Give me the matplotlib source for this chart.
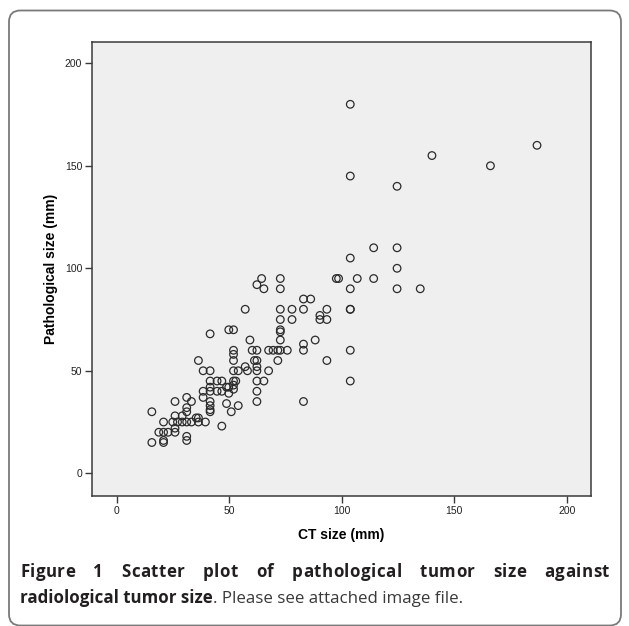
import matplotlib
matplotlib.use("Agg")
import matplotlib.pyplot as plt
from matplotlib.patches import FancyBboxPatch

# CT size (mm) as read against the x ticks
ct_size = [
    15.6, 15.6, 18.7, 20.8, 22.8, 20.8, 20.8, 20.8, 24.9, 27.0, 29.1, 31.1, 33.2, 36.3, 39.4,
    25.9, 25.9, 25.9, 25.9, 29.1, 31.1, 31.1, 31.1, 31.1, 31.1, 33.2, 35.3, 36.3, 38.4, 38.4,
    36.3, 38.4, 41.5, 41.5, 41.5, 41.5, 41.5, 41.5, 41.5, 41.5, 41.5, 44.6, 46.7, 44.6, 46.7,
    46.7, 48.8, 49.8, 49.8, 48.8, 50.9, 51.9, 52.9, 51.9, 51.9, 54.0, 51.9, 51.9, 51.9, 51.9,
    54.0, 49.8, 51.9, 57.1, 59.2, 57.1, 58.1, 60.2, 62.3, 61.2, 62.3, 62.3, 62.3, 62.3, 65.4,
    64.4, 62.3, 65.4, 67.5, 69.5, 71.6, 75.8, 67.5, 71.6, 72.7, 72.7, 72.7, 72.7, 72.7, 72.7,
    72.7, 72.7, 77.9, 77.9, 83.0, 86.2, 83.0, 83.0, 83.0, 83.0, 88.2, 90.3, 90.3, 93.4, 93.4,
    93.4, 97.6, 98.6, 103.8, 103.8, 103.8, 103.8, 103.8, 103.8, 103.8, 103.8, 106.9, 114.2,
    114.2, 124.6, 124.6, 124.6, 124.6, 134.9, 140.1, 166.1, 186.8, 62.3, 62.3,
]
# Pathological size (mm)
path_size = [
    15, 30, 20, 20, 20, 16, 15, 25, 25, 25, 25, 25, 25, 25, 25,
    22, 20, 35, 28, 28, 18, 16, 32, 30, 37, 35, 27, 27, 40, 37,
    55, 50, 45, 42, 40, 35, 33, 31, 30, 50, 68, 45, 45, 40, 40,
    23, 42, 42, 39, 34, 30, 45, 45, 43, 41, 33, 60, 58, 55, 50,
    50, 70, 70, 80, 65, 52, 50, 60, 60, 55, 55, 52, 50, 45, 45,
    95, 92, 90, 60, 60, 60, 60, 50, 55, 95, 90, 80, 75, 70, 69,
    65, 60, 80, 75, 85, 85, 80, 63, 60, 35, 65, 77, 75, 80, 75,
    55, 95, 95, 180, 145, 105, 90, 80, 80, 60, 45, 95, 110,
    95, 140, 110, 100, 90, 90, 155, 150, 160, 40, 35,
]

x_ticks = [0, 50, 100, 150, 200]
y_ticks = [0, 50, 100, 150, 200]
x_label = "CT size (mm)"
y_label = "Pathological size (mm)"
caption_bold_1 = "Figure 1 Scatter plot of pathological tumor size against"
caption_bold_2 = "radiological tumor size"
caption_rest = ". Please see attached image file."

W, H = 629, 626
fig = plt.figure(figsize=(W / 100, H / 100), dpi=100)
fig.patch.set_facecolor("white")

# outer rounded frame
frame = FancyBboxPatch((9 / W, 0.5 / H), 612 / W, 615 / H,
                       boxstyle="round,pad=0,rounding_size=0.018",
                       transform=fig.transFigure, facecolor="none",
                       edgecolor="#7a7a7a", linewidth=1.3)
fig.patches.append(frame)

ax = fig.add_axes([92 / W, 130 / H, 499 / W, 454 / H])
ax.set_facecolor("#efefef")
ax.scatter(ct_size, path_size, s=30, facecolors="none", edgecolors="#2b2b2b",
           linewidths=0.9, zorder=3)
ax.set_xlim(-11, 210.8)
ax.set_ylim(-11.1, 210.4)
ax.set_xticks(x_ticks)
ax.set_yticks(y_ticks)
for sp in ax.spines.values():
    sp.set_color("#3a3a3a")
    sp.set_linewidth(1.1)
ax.tick_params(direction="out", length=5, width=1, color="#3a3a3a",
               labelsize=7.5, labelcolor="#222222", pad=2)
for lab in ax.get_xticklabels() + ax.get_yticklabels():
    lab.set_family("Liberation Sans")
ax.set_xlabel(x_label, fontsize=10, fontweight="bold", family="Liberation Sans",
              labelpad=9)
ax.set_ylabel(y_label, fontsize=10, fontweight="bold", family="Liberation Sans",
              labelpad=5)

# caption
cap_font = dict(family="Open Sans", fontsize=12.2, color="#231f20")
renderer = fig.canvas.get_renderer()
x_left, x_right = 20 / W, 609 / W
y1 = 1 - 577 / H
tracking = 0.45 / W  # slight letter spacing, as in the justified reference line

words = caption_bold_1.split()
word_chars = []
word_widths = []
for w in words:
    chars = [fig.text(0, y1, c, fontweight="bold", **cap_font) for c in w]
    cw = [t.get_window_extent(renderer).width / W for t in chars]
    word_chars.append((chars, cw))
    word_widths.append(sum(cw) + tracking * (len(w) - 1))
gap = (x_right - x_left - sum(word_widths)) / (len(words) - 1)
x = x_left
for (chars, cw), ww in zip(word_chars, word_widths):
    xc = x
    for t, c in zip(chars, cw):
        t.set_x(xc)
        xc += c + tracking
    x += ww + gap

y2 = 1 - 603 / H
t2 = fig.text(x_left, y2, caption_bold_2, fontweight="bold", **cap_font)
w2 = t2.get_window_extent(renderer).width / W
fig.text(x_left + w2, y2, caption_rest, fontweight="normal",
         **{**cap_font, "color": "#3a3a3a"})

fig.savefig("out.png", dpi=100, facecolor="white")
